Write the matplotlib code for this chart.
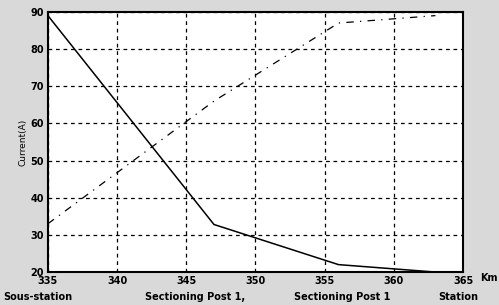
import numpy as np
import matplotlib
matplotlib.use('Agg')
import matplotlib.pyplot as plt

# data
km = [335, 347, 356, 363]
current_a = [89, 32.8, 22, 20]
current_b = [33, 66, 87, 89]

stations = ['Sous-station', 'Sectioning Post 1,', 'Sectioning Post 1', 'Station']
station_x = [0.006, 0.39, 0.685, 0.918]
station_ha = ['left', 'center', 'center', 'center']

font = {'size': 7, 'weight': 'bold'}
matplotlib.rc('font', **font)

fig = plt.figure(figsize=(4.99, 3.05), dpi=100, facecolor='#d9d9d9')
ax = fig.add_axes([0.096, 0.108, 0.832, 0.853])
ax.set_facecolor('white')

ax.plot(km, current_a, color='black', lw=1.1)
ax.plot(km, current_b, color='black', lw=0.9, linestyle=(0, (6, 5, 1, 5)))

ax.set_xlim(335, 365)
ax.set_ylim(20, 90)
ax.set_xticks(np.arange(335, 366, 5))
ax.set_yticks(np.arange(20, 91, 10))
ax.grid(True, color='black', linestyle=(0, (3, 3)), lw=0.9)
ax.tick_params(length=0)
ax.tick_params(axis='x', pad=3)
ax.tick_params(axis='y', pad=3)
for s in ax.spines.values():
    s.set_linewidth(1.5)

ax.set_ylabel('Current(A)', fontsize=6.5, labelpad=2)
fig.text(0.962, 0.087, 'Km', ha='left', va='center', fontsize=7, weight='bold')

for name, xx, ha in zip(stations, station_x, station_ha):
    fig.text(xx, 0.025, name, ha=ha, va='center', fontsize=7, weight='bold')

plt.savefig('out.png', dpi=100, facecolor=fig.get_facecolor())
plt.close()
